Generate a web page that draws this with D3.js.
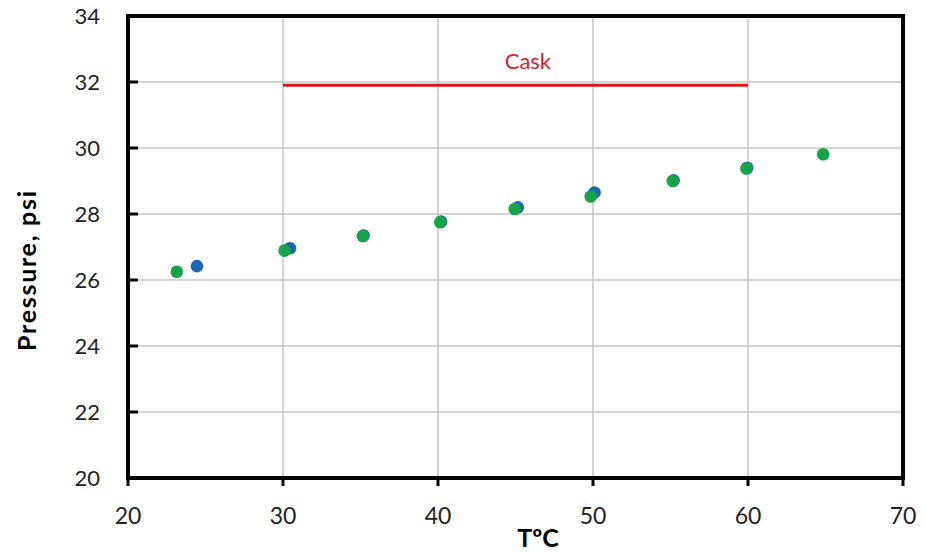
<!DOCTYPE html>
<html>
<head>
<meta charset="utf-8">
<script src="https://cdn.jsdelivr.net/npm/d3@7"></script>
<style>
  body { margin: 0; background: #fff; }
  svg { display: block; }
</style>
</head>
<body>
<svg id="chart" width="926" height="553"></svg>
<script>
// data
let green_t = [23.15, 30.1, 35.15, 40.15, 44.95, 49.85, 55.15, 59.9, 64.85];
let green_p = [26.25, 26.89, 27.33, 27.75, 28.15, 28.53, 29.0, 29.38, 29.81];
let blue_t = [24.45, 30.45, 35.2, 40.2, 45.15, 50.1, 55.2, 59.95];
let blue_p = [26.42, 26.96, 27.35, 27.77, 28.2, 28.65, 29.02, 29.4];
let cask_t = [30, 60];
let cask_p = 31.9;
let x_ticks = [20, 30, 40, 50, 60, 70];
let y_ticks = [20, 22, 24, 26, 28, 30, 32, 34];

let svg = d3.select('#chart');
let plot_left = 128, plot_right = 903, plot_top = 16, plot_bottom = 478;
let font = 'Lato, "Open Sans", sans-serif';

let x = d3.scaleLinear().domain([20, 70]).range([plot_left, plot_right]);
let y = d3.scaleLinear().domain([20, 34]).range([plot_bottom, plot_top]);

// grid
let grid = svg.append('g').attr('class', 'grid');
grid.selectAll('.vgrid').data(x_ticks.slice(1, -1)).enter().append('line')
  .attr('x1', d => x(d)).attr('x2', d => x(d))
  .attr('y1', plot_top).attr('y2', plot_bottom)
  .attr('stroke', '#c4c4c4').attr('stroke-width', 1.5);
grid.selectAll('.hgrid').data(y_ticks.slice(1, -1)).enter().append('line')
  .attr('x1', plot_left).attr('x2', plot_right)
  .attr('y1', d => y(d)).attr('y2', d => y(d))
  .attr('stroke', '#c4c4c4').attr('stroke-width', 1.5);

// cask line
svg.append('line')
  .attr('x1', x(cask_t[0])).attr('x2', x(cask_t[1]))
  .attr('y1', y(cask_p)).attr('y2', y(cask_p))
  .attr('stroke', '#e0141e').attr('stroke-width', 3);
svg.append('text')
  .attr('x', x(45.8)).attr('y', 69)
  .attr('text-anchor', 'middle')
  .attr('font-family', font).attr('font-size', 22)
  .attr('fill', '#d4252c')
  .text('Cask');

// points
let blue = blue_t.map((t, i) => [t, blue_p[i]]);
let green = green_t.map((t, i) => [t, green_p[i]]);
svg.selectAll('.blue').data(blue).enter().append('circle').attr('class', 'blue')
  .attr('cx', d => x(d[0])).attr('cy', d => y(d[1])).attr('r', 6.3)
  .attr('fill', '#1f66b0');
svg.selectAll('.green').data(green).enter().append('circle').attr('class', 'green')
  .attr('cx', d => x(d[0])).attr('cy', d => y(d[1])).attr('r', 6.3)
  .attr('fill', '#16a34a');

// frame
svg.append('rect')
  .attr('x', plot_left).attr('y', plot_top)
  .attr('width', plot_right - plot_left).attr('height', plot_bottom - plot_top)
  .attr('fill', 'none').attr('stroke', '#000').attr('stroke-width', 4);

// x ticks + labels
let xa = svg.append('g');
xa.selectAll('.xt').data(x_ticks).enter().append('line')
  .attr('x1', d => x(d)).attr('x2', d => x(d))
  .attr('y1', plot_bottom).attr('y2', plot_bottom + 8)
  .attr('stroke', '#000').attr('stroke-width', 3);
xa.selectAll('.xl').data(x_ticks).enter().append('text')
  .attr('x', d => x(d)).attr('y', 524)
  .attr('text-anchor', 'middle')
  .attr('font-family', font).attr('font-size', 23)
  .attr('fill', '#222')
  .text(d => d);

// y ticks + labels
let ya = svg.append('g');
ya.selectAll('.yt').data(y_ticks).enter().append('line')
  .attr('x1', plot_left).attr('x2', plot_left + 10)
  .attr('y1', d => y(d)).attr('y2', d => y(d))
  .attr('stroke', '#000').attr('stroke-width', 3);
ya.selectAll('.yl').data(y_ticks).enter().append('text')
  .attr('x', 100).attr('y', d => y(d))
  .attr('dy', '0.36em')
  .attr('text-anchor', 'end')
  .attr('font-family', font).attr('font-size', 22)
  .attr('fill', '#222')
  .text(d => d);

// titles
svg.append('text')
  .attr('transform', 'translate(36,271) rotate(-90)')
  .attr('text-anchor', 'middle')
  .attr('font-family', font).attr('font-size', 25).attr('font-weight', 'bold')
  .attr('textLength', 160).attr('lengthAdjust', 'spacing')
  .attr('fill', '#000')
  .text('Pressure, psi');
svg.append('text')
  .attr('x', 538).attr('y', 547)
  .attr('text-anchor', 'middle')
  .attr('font-family', font).attr('font-size', 25).attr('font-weight', 'bold')
  .attr('fill', '#000')
  .text('TºC');
</script>
</body>
</html>
